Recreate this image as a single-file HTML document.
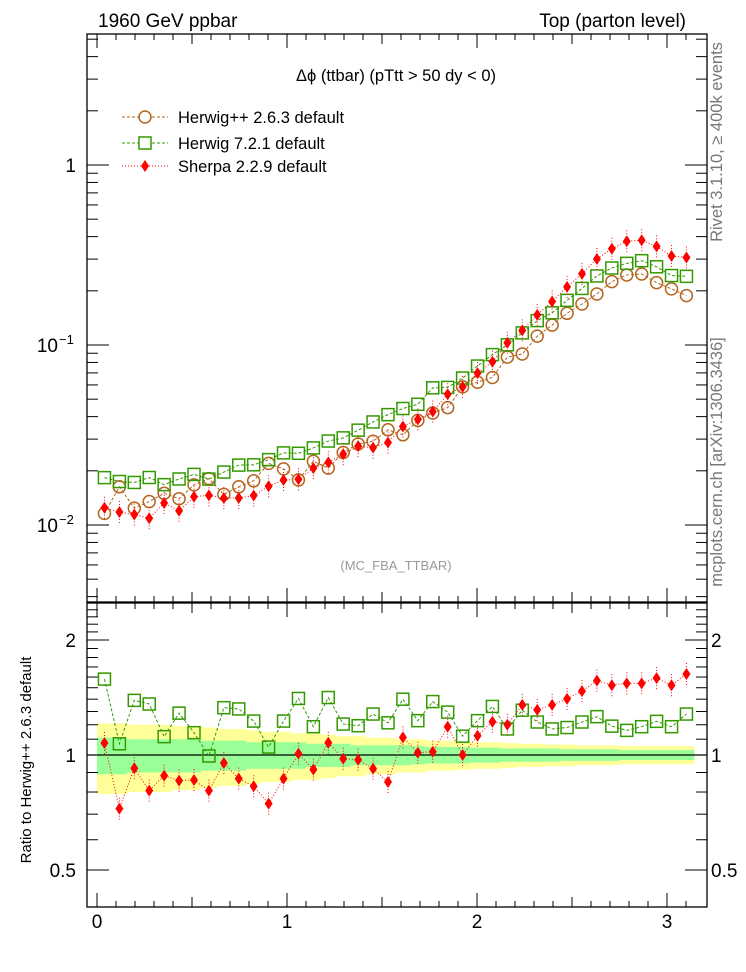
<!DOCTYPE html>
<html><head><meta charset="utf-8"><style>
body{margin:0;background:#fff}
svg{display:block;font-family:"Liberation Sans",sans-serif}
</style></head><body>
<svg id="c" width="746" height="972" viewBox="0 0 746 972" xmlns="http://www.w3.org/2000/svg">
<rect width="746" height="972" fill="#fff"/>
<text x="98" y="27" font-size="19">1960 GeV ppbar</text>
<text x="686" y="27" font-size="19" text-anchor="end">Top (parton level)</text>
<text x="396" y="81" font-size="16.5" text-anchor="middle">Δϕ (ttbar) (pTtt &gt; 50 dy &lt; 0)</text>
<text x="396" y="570" font-size="13" fill="#999" text-anchor="middle">(MC_FBA_TTBAR)</text>
<text transform="translate(722,142) rotate(-90)" font-size="16.5" fill="#777" text-anchor="middle">Rivet 3.1.10, ≥ 400k events</text>
<text transform="translate(722,462) rotate(-90)" font-size="16.5" fill="#777" text-anchor="middle">mcplots.cern.ch [arXiv:1306.3436]</text>
<text transform="translate(31,760) rotate(-90)" font-size="15" text-anchor="middle">Ratio to Herwig++ 2.6.3 default</text>
<g id="bands"></g>
<g id="axes"></g>
<g id="series"></g>
<g id="legend">
<g>
<line x1="122" y1="117" x2="168" y2="117" stroke="#b5651d" stroke-dasharray="3,2"/>
<circle cx="145" cy="117" r="6" fill="#fff" stroke="#b5651d" stroke-width="1.5"/>
<text x="178" y="123" font-size="16.5">Herwig++ 2.6.3 default</text></g>
<g>
<line x1="122" y1="143" x2="168" y2="143" stroke="#339900" stroke-dasharray="3,2"/>
<rect x="139" y="137" width="12" height="12" fill="#fff" stroke="#339900" stroke-width="1.5"/>
<text x="178" y="149" font-size="16.5">Herwig 7.2.1 default</text></g>
<g>
<line x1="122" y1="166" x2="168" y2="166" stroke="#f00" stroke-dasharray="1,2"/>
<path d="M145 160 L149 166 L145 172 L141 166 Z" fill="#f00"/>
<text x="178" y="172" font-size="16.5">Sherpa 2.2.9 default</text></g>
</g>
</svg>
<script>
const herwigPP=[0.0116,0.0163,0.0124,0.0135,0.0150,0.0140,0.0167,0.0181,0.0148,0.0163,0.0176,0.0220,0.0205,0.0178,0.0226,0.0207,0.0253,0.0282,0.0292,0.0338,0.0317,0.0381,0.0419,0.0449,0.0585,0.0621,0.0660,0.0857,0.0891,0.112,0.129,0.150,0.169,0.192,0.225,0.245,0.248,0.222,0.205,0.188];
const ratioH7=[1.58,1.07,1.39,1.36,1.117,1.287,1.144,0.994,1.33,1.32,1.227,1.049,1.227,1.406,1.186,1.414,1.205,1.193,1.28,1.214,1.40,1.23,1.38,1.295,1.12,1.23,1.34,1.17,1.31,1.22,1.17,1.18,1.22,1.26,1.19,1.16,1.186,1.225,1.186,1.28];
const ratioSherpa=[1.075,0.724,0.923,0.807,0.883,0.857,0.86,0.807,0.953,0.867,0.828,0.746,0.867,1.008,0.916,1.077,0.978,0.972,0.921,0.85,1.112,1.014,1.02,1.186,1.0,1.123,1.222,1.2,1.353,1.313,1.353,1.403,1.47,1.566,1.523,1.54,1.54,1.59,1.523,1.63];
const bandYellow=[0.21,0.21,0.20,0.20,0.20,0.19,0.19,0.18,0.17,0.17,0.16,0.15,0.15,0.14,0.14,0.13,0.12,0.12,0.11,0.11,0.10,0.10,0.09,0.09,0.085,0.08,0.08,0.075,0.07,0.07,0.065,0.065,0.06,0.06,0.06,0.055,0.055,0.055,0.055,0.055];
const bandGreen=[0.11,0.11,0.10,0.10,0.10,0.10,0.10,0.09,0.09,0.09,0.08,0.08,0.08,0.08,0.07,0.07,0.07,0.06,0.06,0.06,0.06,0.055,0.05,0.05,0.05,0.045,0.045,0.04,0.04,0.04,0.04,0.035,0.035,0.035,0.035,0.03,0.03,0.03,0.03,0.03];
const xTicks=["0","1","2","3"];
const ratioTicks=[0.5,1,2];
const NS="http://www.w3.org/2000/svg";
const L=87,R=707,MT=34,MB=602,RT=603,RB=907;
const bw=Math.PI/herwigPP.length;
const sx=v=>97+v*190;
const ym=v=>165-Math.log10(v)*180;
const yr=v=>755-Math.log10(v)*382;
function mk(p,tag,a){const e=document.createElementNS(NS,tag);for(const k in a)e.setAttribute(k,a[k]);p.appendChild(e);return e;}
const axes=document.getElementById('axes'),bands=document.getElementById('bands'),ser=document.getElementById('series');
herwigPP.forEach((_,i)=>{
 const x0=sx(i*bw),x1=sx((i+1)*bw);
 const y=mk(bands,'rect',{x:x0,y:yr(1+bandYellow[i]),width:x1-x0+0.5,height:yr(1-bandYellow[i])-yr(1+bandYellow[i]),fill:'#ffff99'});
 
 
 const g=mk(bands,'rect',{x:x0,y:yr(1+bandGreen[i]),width:x1-x0+0.5,height:yr(1-bandGreen[i])-yr(1+bandGreen[i]),fill:'#99ff99'});
 
 
});
mk(bands,'line',{x1:L,x2:R,y1:yr(1),y2:yr(1),stroke:'#000','stroke-width':1.2});
const f1=mk(axes,'rect',{x:L,y:MT,width:R-L,height:MB-MT,fill:'none',stroke:'#000','stroke-width':1.3});


const f2=mk(axes,'rect',{x:L,y:RT,width:R-L,height:RB-RT,fill:'none',stroke:'#000','stroke-width':1.3});


for(let k=0;k<=31;k++){const v=k/10,x=sx(v);const len=(k%10==0)?14:(k%5==0?10:6);
 [[MT,1],[MB,-1],[RT,1],[RB,-1]].forEach(([y,d])=>mk(axes,'line',{x1:x,x2:x,y1:y,y2:y+d*len,stroke:'#000'}));}
xTicks.forEach(t=>{const e=mk(axes,'text',{x:sx(+t),y:928,'font-size':19,'text-anchor':'middle'});e.textContent=t;
 
 });
for(let d=-3;d<=0;d++)for(let m=1;m<=9;m++){const v=m*Math.pow(10,d),y=ym(v);if(y<MT||y>MB)continue;const len=m==1?22:11;
 mk(axes,'line',{x1:L,x2:L+len,y1:y,y2:y,stroke:'#000'});mk(axes,'line',{x1:R,x2:R-len,y1:y,y2:y,stroke:'#000'});}
[[1,'1'],[0.1,'10'],[0.01,'10']].forEach(([v,t],i)=>{const e=mk(axes,'text',{x:i==0?76:58,y:ym(v)+7,'font-size':19,'text-anchor':'end'});e.textContent=t;
 
 
 if(i>0){const s=mk(axes,'text',{x:59,y:ym(v)-1,'font-size':13});s.textContent=i==1?'−1':'−2';}});
for(let v=0.4;v<=2.51;v+=0.1){const y=yr(v);if(y<RT||y>RB)continue;const maj=Math.abs(v-0.5)<1e-6||Math.abs(v-1)<1e-6||Math.abs(v-2)<1e-6;const len=maj?22:11;
 mk(axes,'line',{x1:L,x2:L+len,y1:y,y2:y,stroke:'#000'});mk(axes,'line',{x1:R,x2:R-len,y1:y,y2:y,stroke:'#000'});}
ratioTicks.forEach(v=>{const t=String(v);
 const a=mk(axes,'text',{x:76,y:yr(v)+7,'font-size':19,'text-anchor':'end'});a.textContent=t;
 
 
 const b=mk(axes,'text',{x:711,y:yr(v)+7,'font-size':19});b.textContent=t;
 
 });
const cx=i=>sx((i+0.5)*bw);
const h7=herwigPP.map((v,i)=>v*ratioH7[i]);
const sh=herwigPP.map((v,i)=>v*ratioSherpa[i]);
function line(vals,yf,col,dash,name){const p=mk(ser,'polyline',{points:vals.map((v,i)=>cx(i)+','+yf(v)).join(' '),fill:'none',stroke:col,'stroke-dasharray':dash,'stroke-width':1});
 
 }
function circles(vals,yf,name){vals.forEach((v,i)=>{const c=mk(ser,'circle',{cx:cx(i),cy:yf(v),r:6,fill:'none',stroke:'#b5651d','stroke-width':1.5});
 
 });}
function squares(vals,yf,name){vals.forEach((v,i)=>{const s=mk(ser,'rect',{x:cx(i)-6,y:yf(v)-6,width:12,height:12,fill:'none',stroke:'#339900','stroke-width':1.5});
 
 });}
function diamonds(vals,yf,name){vals.forEach((v,i)=>{const x=cx(i),y=yf(v);
 mk(ser,'line',{x1:x,x2:x,y1:y-11,y2:y+11,stroke:'#f00','stroke-dasharray':'1,2'});
 const d=mk(ser,'path',{d:`M${x} ${y-6} L${x+4} ${y} L${x} ${y+6} L${x-4} ${y} Z`,fill:'#f00'});
 
 });}
line(herwigPP,ym,'#b5651d','3,2','herwigpp-line');
line(h7,ym,'#339900','3,2','herwig7-line');
line(sh,ym,'#f00','1,2','sherpa-line');
circles(herwigPP,ym,'herwigpp-point');
squares(h7,ym,'herwig7-point');
diamonds(sh,ym,'sherpa-point');
line(ratioH7,yr,'#339900','3,2','herwig7-ratio-line');
line(ratioSherpa,yr,'#f00','1,2','sherpa-ratio-line');
squares(ratioH7,yr,'herwig7-ratio-point');
diamonds(ratioSherpa,yr,'sherpa-ratio-point');
</script>
</body></html>
